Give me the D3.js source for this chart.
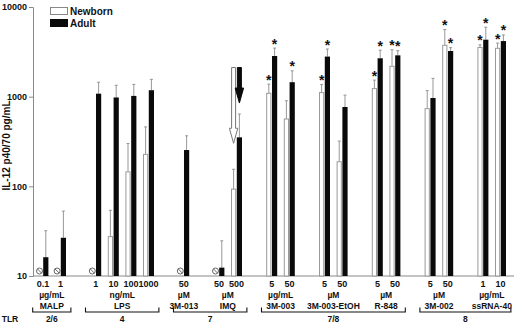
<!DOCTYPE html>
<html>
<head>
<meta charset="utf-8">
<script src="https://cdn.jsdelivr.net/npm/d3@7"></script>
<style>
  html, body { margin: 0; padding: 0; background: #fff; }
  svg text { font-family: "Liberation Sans", Arial, sans-serif; font-weight: bold; fill: #111; }
</style>
</head>
<body>
<svg id="chart" width="520" height="322"></svg>
<script>
  // compound groups, in order (unit line and TLR family)
  const compounds = ['MALP', 'LPS', '3M-013', 'IMQ', '3M-003', '3M-003-EtOH', 'R-848', '3M-002', 'ssRNA-40'];
  const units = ['\u00b5g/mL', 'ng/mL', '\u00b5M', '\u00b5M', '\u00b5g/mL', '\u00b5M', '\u00b5M', '\u00b5M', '\u00b5g/mL'];
  const tlrNames = ['2/6', '4', '7', '7/8', '8'];
  const tlrMembers = [['MALP'], ['LPS'], ['3M-013', 'IMQ'], ['3M-003', '3M-003-EtOH', 'R-848'], ['3M-002', 'ssRNA-40']];

  // one entry per stimulus
  const stimCompound = ['MALP', 'MALP', 'LPS', 'LPS', 'LPS', 'LPS', '3M-013', 'IMQ', 'IMQ',
    '3M-003', '3M-003', '3M-003-EtOH', '3M-003-EtOH', 'R-848', 'R-848', '3M-002', '3M-002', 'ssRNA-40', 'ssRNA-40'];
  const concentrations = ['0.1', '1', '1', '10', '100', '1000', '50', '50', '500',
    '5', '50', '5', '50', '5', '50', '5', '50', '1', '10'];

  // null = not detected
  const newborn =    [null, null, null, 27.5, 145, 227, null, null, 93, 1090, 563, 1110, 188, 1230, 2180, 735, 3740, 3540, 3460];
  const newbornErr = [null, null, null, 54, 300, 460, null, null, 155, 1380, 900, 1370, 320, 1530, 3340, 1170, 5600, 3790, 3960];
  const adult =      [16.2, 26.7, 1080, 980, 1020, 1180, 254, 12.4, 352, 2840, 1450, 2800, 767, 2680, 2890, 966, 3230, 4320, 4170];
  const adultErr =   [32, 53, 1450, 1340, 1370, 1560, 366, 24.7, 640, 3480, 1940, 3400, 1040, 3300, 3260, 1600, 3520, 5950, 4880];
  const newbornStar = [0, 0, 0, 0, 0, 0, 0, 0, 0, 1, 0, 1, 0, 1, 1, 0, 1, 1, 1];
  const adultStar =   [0, 0, 0, 0, 0, 0, 0, 0, 0, 1, 1, 1, 0, 1, 1, 0, 1, 1, 1];

  const yTicks = [10, 100, 1000, 10000];

  const svg = d3.select('#chart');

  // slots: each stimulus gets one, with an empty slot between compounds
  const slots = [];
  const stimSlot = [];
  compounds.forEach((c, gi) => {
    if (gi > 0) slots.push('gap' + gi);
    stimCompound.forEach((sc, i) => {
      if (sc === c) { stimSlot[i] = 's' + i; slots.push('s' + i); }
    });
  });

  const x = d3.scaleBand().domain(slots).range([34.2, 509.4]).padding(0);
  const sub = d3.scaleBand().domain(['newborn', 'adult']).range([-5.6, 5.4]).paddingInner(0.1);
  const y = d3.scaleLog().domain([10, 10000]).range([276, 7]);

  const cx = i => x(stimSlot[i]) + x.bandwidth() / 2;

  // axes
  const yAxis = svg.append('g')
    .attr('transform', 'translate(33,0)')
    .call(d3.axisLeft(y).tickValues(yTicks).tickFormat(d3.format('d')).tickSize(4).tickPadding(2));
  yAxis.selectAll('path, line').attr('stroke', '#8a8a8a');
  yAxis.selectAll('text').style('font-size', '9px').style('font-family', '"Liberation Sans", Arial, sans-serif')
    .style('font-weight', 'bold').attr('fill', '#111');

  svg.append('line')
    .attr('x1', 33).attr('x2', 514)
    .attr('y1', y(10)).attr('y2', y(10))
    .attr('stroke', '#8a8a8a').attr('stroke-width', 1);

  svg.append('text')
    .attr('transform', `translate(10,${(y(10) + y(10000)) / 2 + 4}) rotate(-90)`)
    .attr('text-anchor', 'middle')
    .style('font-size', '10px')
    .text('IL-12 p40/70 pg/mL');

  const data = stimCompound.map((c, i) => ({ i, c }));

  // error bars (drawn under bars)
  function errorBars(vals, errs, key, color) {
    const g = svg.append('g');
    data.filter(d => vals[d.i] != null).forEach(d => {
      const xc = cx(d.i) + sub(key) + sub.bandwidth() / 2;
      g.append('line').attr('x1', xc).attr('x2', xc)
        .attr('y1', y(vals[d.i])).attr('y2', y(errs[d.i]))
        .attr('stroke', color).attr('stroke-width', 0.9);
      g.append('line').attr('x1', xc - 1.5).attr('x2', xc + 1.5)
        .attr('y1', y(errs[d.i])).attr('y2', y(errs[d.i]))
        .attr('stroke', color).attr('stroke-width', 0.9);
    });
  }
  errorBars(newborn, newbornErr, 'newborn', '#8c8c8c');
  errorBars(adult, adultErr, 'adult', '#8c8c8c');

  // newborn bars
  svg.append('g').selectAll('rect')
    .data(data.filter(d => newborn[d.i] != null))
    .join('rect')
    .attr('x', d => cx(d.i) + sub('newborn') + 0.5)
    .attr('y', d => y(newborn[d.i]))
    .attr('width', sub.bandwidth() - 1)
    .attr('height', d => y(10) - y(newborn[d.i]))
    .attr('fill', '#fff')
    .attr('stroke', '#9a9a9a')
    .attr('stroke-width', 1);

  // adult bars
  svg.append('g').selectAll('rect')
    .data(data)
    .join('rect')
    .attr('x', d => cx(d.i) + sub('adult'))
    .attr('y', d => y(adult[d.i]))
    .attr('width', sub.bandwidth())
    .attr('height', d => y(10) - y(adult[d.i]))
    .attr('fill', '#0a0a0a');

  // not detected symbols
  const nd = svg.append('g');
  data.filter(d => newborn[d.i] == null).forEach(d => {
    const xc = cx(d.i) + sub('newborn') + sub.bandwidth() / 2 - 0.5;
    const yc = y(10) - 5;
    nd.append('circle').attr('cx', xc).attr('cy', yc).attr('r', 3)
      .attr('fill', 'none').attr('stroke', '#555').attr('stroke-width', 0.9);
    nd.append('line').attr('x1', xc - 2).attr('y1', yc - 2).attr('x2', xc + 2).attr('y2', yc + 2)
      .attr('stroke', '#555').attr('stroke-width', 0.9);
  });

  // significance stars
  function stars(flags, errs, key) {
    svg.append('g').selectAll('text')
      .data(data.filter(d => flags[d.i]))
      .join('text')
      .attr('x', d => cx(d.i) + sub(key) + sub.bandwidth() / 2)
      .attr('y', d => y(errs[d.i]) + 0.5)
      .attr('text-anchor', 'middle')
      .style('font-size', '14px')
      .text('*');
  }
  stars(newbornStar, newbornErr, 'newborn');
  stars(adultStar, adultErr, 'adult');

  // arrows over IMQ 500
  const imq = stimCompound.lastIndexOf('IMQ');
  function arrow(key, yTip, fill, stroke) {
    const xc = cx(imq) + sub(key) + sub.bandwidth() / 2;
    const top = 67.5, sw = 2, hw = 4.2, hl = 15;
    const pts = [[xc - sw, top], [xc + sw, top], [xc + sw, yTip - hl], [xc + hw, yTip - hl],
      [xc, yTip], [xc - hw, yTip - hl], [xc - sw, yTip - hl]];
    svg.append('path')
      .attr('d', 'M' + pts.map(p => p.join(',')).join('L') + 'Z')
      .attr('fill', fill).attr('stroke', stroke).attr('stroke-width', 1);
  }
  arrow('newborn', y(newbornErr[imq]) - 26, '#fff', '#777');
  arrow('adult', y(adultErr[imq]) - 11, '#0a0a0a', '#0a0a0a');

  // concentration labels
  svg.append('g').selectAll('text')
    .data(data)
    .join('text')
    .attr('x', d => cx(d.i))
    .attr('y', 286.5)
    .attr('text-anchor', 'middle')
    .style('font-size', '9px')
    .text(d => concentrations[d.i]);

  // unit and compound labels
  const groupCenter = c => {
    const idx = d3.range(stimCompound.length).filter(i => stimCompound[i] === c);
    return (cx(idx[0]) + cx(idx[idx.length - 1])) / 2;
  };
  compounds.forEach((c, gi) => {
    svg.append('text').attr('x', groupCenter(c)).attr('y', 298)
      .attr('text-anchor', 'middle').style('font-size', '8.5px').text(units[gi]);
    svg.append('text').attr('x', groupCenter(c)).attr('y', 309)
      .attr('text-anchor', 'middle').style('font-size', '8.5px').text(c);
  });

  // TLR brackets
  tlrNames.forEach((name, ti) => {
    const members = tlrMembers[ti];
    const idx = d3.range(stimCompound.length).filter(i => members.includes(stimCompound[i]));
    const x0 = x(stimSlot[idx[0]]) - 1.5;
    const x1 = x(stimSlot[idx[idx.length - 1]]) + x.bandwidth() + 1.5;
    svg.append('path')
      .attr('d', `M${x0},307.5V312H${x1}V307.5`)
      .attr('fill', 'none').attr('stroke', '#111').attr('stroke-width', 1.1);
    svg.append('text').attr('x', (x0 + x1) / 2).attr('y', 321.5)
      .attr('text-anchor', 'middle').style('font-size', '8.5px').text(name);
  });
  svg.append('text').attr('x', 10).attr('y', 321.5)
    .attr('text-anchor', 'middle').style('font-size', '8.5px').text('TLR');

  // legend
  const legend = svg.append('g').attr('transform', 'translate(50,7)');
  [['Newborn', '#fff', '#888'], ['Adult', '#0a0a0a', '#0a0a0a']].forEach((l, k) => {
    legend.append('rect').attr('x', 0.5).attr('y', k * 12 + 0.5).attr('width', 17).attr('height', 7)
      .attr('fill', l[1]).attr('stroke', l[2]).attr('stroke-width', 1);
    legend.append('text').attr('x', 20).attr('y', k * 12 + 8)
      .style('font-size', '10px').text(l[0]);
  });
</script>
</body>
</html>
